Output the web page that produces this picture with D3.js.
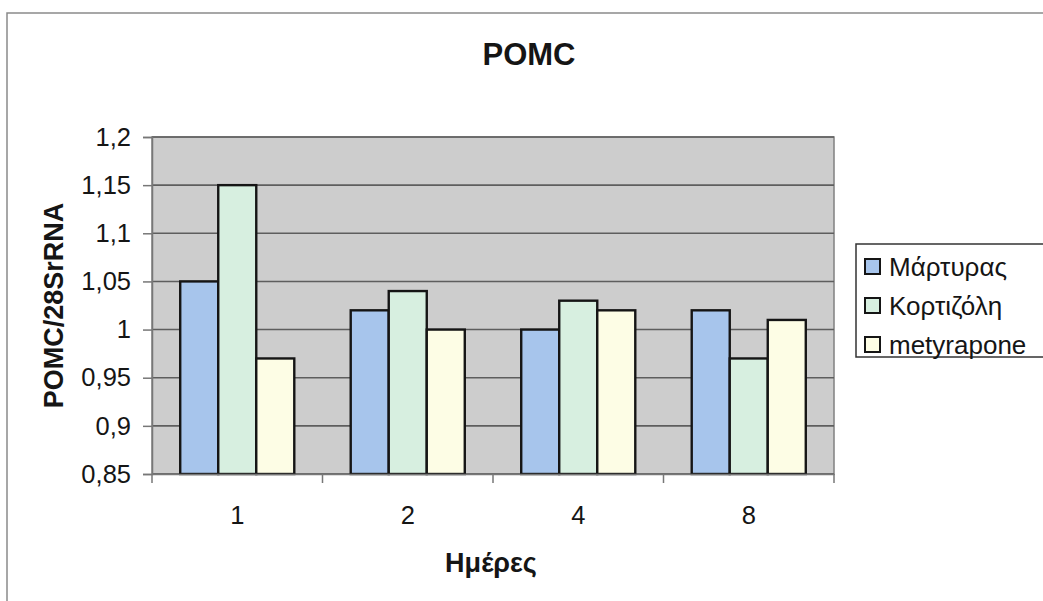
<!DOCTYPE html>
<html>
<head>
<meta charset="utf-8">
<script src="https://cdn.jsdelivr.net/npm/d3@7"></script>
<style>
  body { margin: 0; background: #fff; }
  svg { display: block; font-family: "Liberation Sans", Arial, sans-serif; }
</style>
</head>
<body>
<svg class="chart_svg" width="1043" height="601"></svg>
<script>
var days = ["1", "2", "4", "8"];
var seriesNames = ["Μάρτυρας", "Κορτιζόλη", "metyrapone"];
var martyras = [1.05, 1.02, 1.00, 1.02];
var kortizoli = [1.15, 1.04, 1.03, 0.97];
var metyrapone = [0.97, 1.00, 1.02, 1.01];
var yTicks = [0.85, 0.9, 0.95, 1, 1.05, 1.1, 1.15, 1.2];

var colors = ["#a7c5ec", "#d7efe0", "#fdfde5"];
var seriesValues = [martyras, kortizoli, metyrapone];

var svg = d3.select("svg.chart_svg");
var plot = { left: 152, top: 137, right: 834, bottom: 474 };

// comma decimal like the original
var locale = d3.formatLocale({ decimal: ",", thousands: ".", grouping: [3], currency: ["", "€"] });
var fmt = locale.format("");

// outer frame (only top + left visible)
svg.append("path")
   .attr("d", "M7,601V13H1043")
   .attr("fill", "none")
   .attr("stroke", "#8a8a8a")
   .attr("stroke-width", 1.5);

var x = d3.scaleBand()
          .domain(days)
          .range([plot.left, plot.right])
          .paddingInner(0.331)
          .paddingOuter(0.1655);

var xSub = d3.scaleBand()
             .domain(d3.range(seriesNames.length))
             .range([0, x.bandwidth()]);

var y = d3.scaleLinear()
          .domain([0.85, 1.2])
          .range([plot.bottom, plot.top]);

// plot background
svg.append("rect")
   .attr("x", plot.left)
   .attr("y", plot.top)
   .attr("width", plot.right - plot.left)
   .attr("height", plot.bottom - plot.top)
   .attr("fill", "#cdcdcd")
   .attr("stroke", "#808080")
   .attr("stroke-width", 1.5);

// gridlines
svg.append("g")
   .selectAll("line")
   .data(yTicks)
   .enter()
   .append("line")
   .attr("x1", plot.left)
   .attr("x2", plot.right)
   .attr("y1", function(d) { return y(d); })
   .attr("y2", function(d) { return y(d); })
   .attr("stroke", "#5e5e5e")
   .attr("stroke-width", 1.6);

// bars
var rows = [];
days.forEach(function(day, i) {
  seriesValues.forEach(function(vals, s) {
    rows.push({ day: day, s: s, v: vals[i] });
  });
});

svg.append("g")
   .selectAll("rect")
   .data(rows)
   .enter()
   .append("rect")
   .attr("x", function(d) { return x(d.day) + xSub(d.s); })
   .attr("y", function(d) { return y(d.v); })
   .attr("width", xSub.bandwidth())
   .attr("height", function(d) { return y(0.85) - y(d.v); })
   .attr("fill", function(d) { return colors[d.s]; })
   .attr("stroke", "#151515")
   .attr("stroke-width", 2.4);

// y axis
var yAxis = d3.axisLeft(y)
              .tickValues(yTicks)
              .tickFormat(fmt)
              .tickSize(9)
              .tickPadding(12);

var gy = svg.append("g")
            .attr("transform", "translate(" + plot.left + ",0)")
            .call(yAxis);
gy.select(".domain").attr("stroke", "#777").attr("stroke-width", 1.5);
gy.selectAll(".tick line").attr("stroke", "#777").attr("stroke-width", 1.5);
gy.selectAll("text")
  .attr("font-size", 25.5)
  .attr("font-family", "Liberation Sans, Arial, sans-serif")
  .attr("fill", "#151515");

// x axis: ticks sit on the category boundaries
var xAxis = d3.axisBottom(x).tickSize(0).tickPadding(32);
var gx = svg.append("g")
            .attr("transform", "translate(0," + plot.bottom + ")")
            .call(xAxis);
gx.select(".domain").attr("stroke", "#777").attr("stroke-width", 1.5);
gx.selectAll("text")
  .attr("font-size", 25.5)
  .attr("font-family", "Liberation Sans, Arial, sans-serif")
  .attr("fill", "#151515");

var bounds = d3.range(days.length + 1).map(function(i) { return plot.left + i * x.step(); });
svg.append("g")
   .selectAll("line")
   .data(bounds)
   .enter()
   .append("line")
   .attr("x1", function(d) { return d; })
   .attr("x2", function(d) { return d; })
   .attr("y1", plot.bottom)
   .attr("y2", plot.bottom + 9)
   .attr("stroke", "#777")
   .attr("stroke-width", 1.5);

// titles
svg.append("text")
   .attr("x", 529)
   .attr("y", 65)
   .attr("text-anchor", "middle")
   .attr("font-size", 31)
   .attr("font-weight", "bold")
   .attr("fill", "#151515")
   .text("POMC");

svg.append("text")
   .attr("x", 491)
   .attr("y", 572)
   .attr("text-anchor", "middle")
   .attr("font-size", 27)
   .attr("font-weight", "bold")
   .attr("fill", "#151515")
   .text("Ημέρες");

svg.append("text")
   .attr("transform", "translate(63," + (plot.top + plot.bottom) / 2 + ") rotate(-90)")
   .attr("text-anchor", "middle")
   .attr("font-size", 27)
   .attr("font-weight", "bold")
   .attr("fill", "#151515")
   .text("POMC/28SrRNA");

// legend
var legend = svg.append("g").attr("transform", "translate(856,244)");
legend.append("rect")
      .attr("x", 0)
      .attr("y", 0)
      .attr("width", 200)
      .attr("height", 113)
      .attr("fill", "#fff")
      .attr("stroke", "#333")
      .attr("stroke-width", 1.5);

var items = legend.selectAll("g.item")
                  .data(seriesNames)
                  .enter()
                  .append("g")
                  .attr("class", "item")
                  .attr("transform", function(d, i) { return "translate(0," + (i * 39) + ")"; });

items.append("rect")
     .attr("x", 9)
     .attr("y", 15)
     .attr("width", 15)
     .attr("height", 15)
     .attr("fill", function(d, i) { return colors[i]; })
     .attr("stroke", "#151515")
     .attr("stroke-width", 2);

items.append("text")
     .attr("x", 33)
     .attr("y", 32)
     .attr("font-size", 26)
     .attr("fill", "#151515")
     .text(function(d) { return d; });
</script>
</body>
</html>
